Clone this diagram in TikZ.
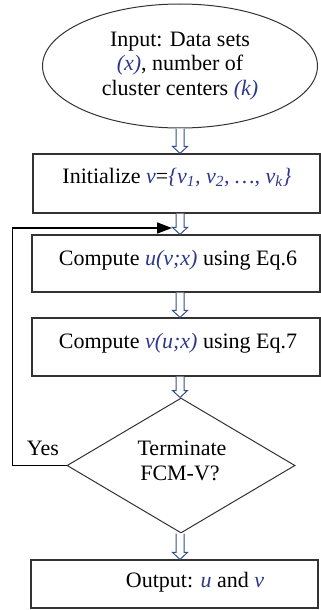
\documentclass[tikz,border=0pt]{standalone}
\usepackage{fontspec}
\setmainfont{Liberation Serif}
\usetikzlibrary{shapes.geometric,arrows.meta,calc}
\definecolor{mathblue}{RGB}{45,55,140}
\definecolor{arrowblue}{RGB}{50,80,140}
\definecolor{edgegray}{RGB}{50,50,50}
\newcommand\mv[1]{\textcolor{mathblue}{\textit{#1}}}
\newcommand\hollowarrow[2]{%
  \draw[hollow] let \p0=(ax), \p1=(#1), \p2=(#2) in
    (\x0-4pt,\y1) -- (\x0-4pt,\y2+7pt) -- (\x0-7.5pt,\y2+7pt) -- (\x0,\y2)
    -- (\x0+7.5pt,\y2+7pt) -- (\x0+4pt,\y2+7pt) -- (\x0+4pt,\y1);}
\begin{document}
\begin{tikzpicture}[x=1pt,y=-1pt,
  every node/.style={font=\fontsize{22}{24.5}\selectfont},
  box/.style={draw=edgegray,line width=1.2pt,inner sep=0pt},
  hollow/.style={draw=arrowblue,line width=1pt,fill=white,line join=miter},
  loopline/.style={draw=black,line width=1.5pt,-{Triangle[length=15pt,width=11pt]}}]
\useasboundingbox (0,0) rectangle (321,610);
\coordinate (ax) at (180,0);
\node[draw=edgegray,line width=1pt,ellipse,minimum width=275pt,minimum height=124pt,inner sep=0pt,align=center] (in) at (180,66)
  {Input: Data sets\\\mv{(x)}, number of\\cluster centers \mv{(k)}};
\node[box,minimum width=287pt,minimum height=59pt] (init) at (176.5,183.5) {};
\node[anchor=base] (initt) at (177,183) {Initialize \mv{v}=\mv{\{v\textsubscript{1}, v\textsubscript{2}, \ldots, v\textsubscript{k}\}}};
\node[box,minimum width=288pt,minimum height=57pt] (cu) at (176,263.5) {};
\node[anchor=base] (cut) at (178,265) {Compute \mv{u(v;x)} using Eq.6};
\node[box,minimum width=288pt,minimum height=58pt] (cv) at (176,347) {};
\node[anchor=base] (cvt) at (178,348) {Compute \mv{v(u;x)} using Eq.7};
\node[draw=edgegray,line width=1pt,diamond,minimum width=228pt,minimum height=135pt,inner sep=0pt] (dec) at (181,465.5) {};
\node[anchor=base] (dect1) at (182,455) {Terminate};
\node[anchor=base] (dect2) at (180,480) {FCM-V?};
\node[box,minimum width=287pt,minimum height=48pt] (out) at (174.5,584) {};
\node[anchor=base] (outt) at (195,587) {Output: \mv{u} and \mv{v}};
\node[anchor=base] (yes) at (43,455) {Yes};
\coordinate (loopend) at (172,228);
\draw[loopline] (dec.west) -- ++(-54,0) |- (loopend);
\hollowarrow{in.south}{init.north}
\hollowarrow{init.south}{cu.north}
\hollowarrow{cu.south}{cv.north}
\hollowarrow{cv.south}{dec.north}
\hollowarrow{dec.south}{out.north}
\end{tikzpicture}
\end{document}
